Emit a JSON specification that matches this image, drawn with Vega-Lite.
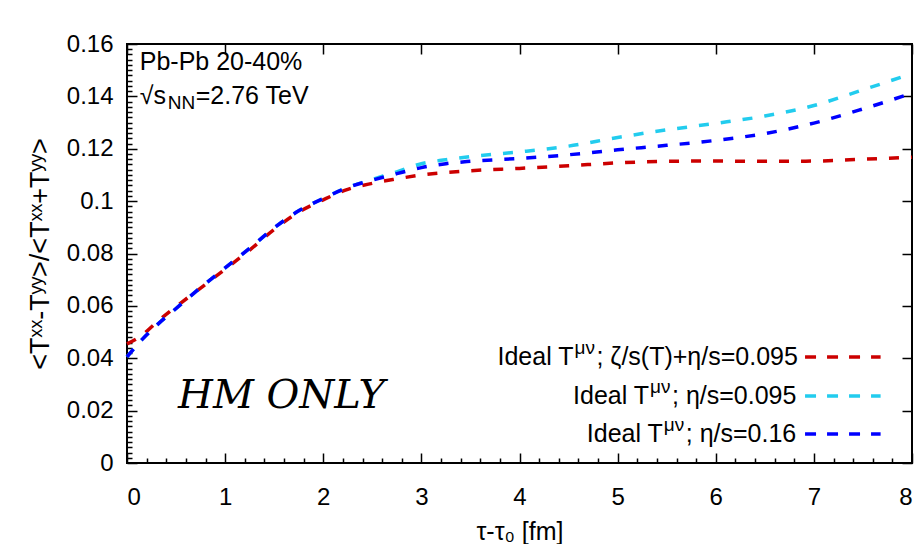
{
  "$schema": "https://vega.github.io/schema/vega-lite/v6.json",
  "width": 785,
  "height": 419,
  "autosize": {"type": "none"},
  "padding": {"left": 127, "top": 44, "right": 12, "bottom": 81},
  "background": "white",
  "config": {
    "view": {"stroke": "#000", "strokeWidth": 2},
    "axis": {"domain": false, "grid": false, "labelFontSize": 24, "tickColor": "#000", "tickWidth": 1.5}
  },
  "data": {"values": [
      {"t": 0, "v": 0.0455, "s": "ζ/s(T)+η/s=0.095"},
      {"t": 0.15, "v": 0.0487, "s": "ζ/s(T)+η/s=0.095"},
      {"t": 0.3, "v": 0.0537, "s": "ζ/s(T)+η/s=0.095"},
      {"t": 0.5, "v": 0.0597, "s": "ζ/s(T)+η/s=0.095"},
      {"t": 0.75, "v": 0.0668, "s": "ζ/s(T)+η/s=0.095"},
      {"t": 1.0, "v": 0.0740, "s": "ζ/s(T)+η/s=0.095"},
      {"t": 1.25, "v": 0.0813, "s": "ζ/s(T)+η/s=0.095"},
      {"t": 1.5, "v": 0.0892, "s": "ζ/s(T)+η/s=0.095"},
      {"t": 1.75, "v": 0.0958, "s": "ζ/s(T)+η/s=0.095"},
      {"t": 2.0, "v": 0.1005, "s": "ζ/s(T)+η/s=0.095"},
      {"t": 2.25, "v": 0.1045, "s": "ζ/s(T)+η/s=0.095"},
      {"t": 2.5, "v": 0.1068, "s": "ζ/s(T)+η/s=0.095"},
      {"t": 2.75, "v": 0.1085, "s": "ζ/s(T)+η/s=0.095"},
      {"t": 3.0, "v": 0.1100, "s": "ζ/s(T)+η/s=0.095"},
      {"t": 3.5, "v": 0.1116, "s": "ζ/s(T)+η/s=0.095"},
      {"t": 4.0, "v": 0.1125, "s": "ζ/s(T)+η/s=0.095"},
      {"t": 4.5, "v": 0.1135, "s": "ζ/s(T)+η/s=0.095"},
      {"t": 5.0, "v": 0.1146, "s": "ζ/s(T)+η/s=0.095"},
      {"t": 5.5, "v": 0.1152, "s": "ζ/s(T)+η/s=0.095"},
      {"t": 6.0, "v": 0.1153, "s": "ζ/s(T)+η/s=0.095"},
      {"t": 6.5, "v": 0.1152, "s": "ζ/s(T)+η/s=0.095"},
      {"t": 7.0, "v": 0.1153, "s": "ζ/s(T)+η/s=0.095"},
      {"t": 7.5, "v": 0.1160, "s": "ζ/s(T)+η/s=0.095"},
      {"t": 8.0, "v": 0.1168, "s": "ζ/s(T)+η/s=0.095"},
      {"t": 0, "v": 0.0405, "s": "η/s=0.095"},
      {"t": 0.15, "v": 0.0470, "s": "η/s=0.095"},
      {"t": 0.3, "v": 0.0525, "s": "η/s=0.095"},
      {"t": 0.5, "v": 0.0590, "s": "η/s=0.095"},
      {"t": 0.75, "v": 0.0670, "s": "η/s=0.095"},
      {"t": 1.0, "v": 0.0745, "s": "η/s=0.095"},
      {"t": 1.25, "v": 0.0820, "s": "η/s=0.095"},
      {"t": 1.5, "v": 0.0898, "s": "η/s=0.095"},
      {"t": 1.75, "v": 0.0963, "s": "η/s=0.095"},
      {"t": 2.0, "v": 0.1010, "s": "η/s=0.095"},
      {"t": 2.25, "v": 0.1053, "s": "η/s=0.095"},
      {"t": 2.5, "v": 0.1083, "s": "η/s=0.095"},
      {"t": 2.75, "v": 0.1112, "s": "η/s=0.095"},
      {"t": 3.0, "v": 0.1143, "s": "η/s=0.095"},
      {"t": 3.25, "v": 0.1158, "s": "η/s=0.095"},
      {"t": 3.5, "v": 0.1170, "s": "η/s=0.095"},
      {"t": 4.0, "v": 0.1188, "s": "η/s=0.095"},
      {"t": 4.5, "v": 0.1210, "s": "η/s=0.095"},
      {"t": 5.0, "v": 0.1243, "s": "η/s=0.095"},
      {"t": 5.5, "v": 0.1272, "s": "η/s=0.095"},
      {"t": 6.0, "v": 0.1297, "s": "η/s=0.095"},
      {"t": 6.5, "v": 0.1325, "s": "η/s=0.095"},
      {"t": 7.0, "v": 0.1365, "s": "η/s=0.095"},
      {"t": 7.5, "v": 0.1425, "s": "η/s=0.095"},
      {"t": 8.0, "v": 0.1487, "s": "η/s=0.095"},
      {"t": 0, "v": 0.0405, "s": "η/s=0.16"},
      {"t": 0.15, "v": 0.0470, "s": "η/s=0.16"},
      {"t": 0.3, "v": 0.0525, "s": "η/s=0.16"},
      {"t": 0.5, "v": 0.0590, "s": "η/s=0.16"},
      {"t": 0.75, "v": 0.0670, "s": "η/s=0.16"},
      {"t": 1.0, "v": 0.0745, "s": "η/s=0.16"},
      {"t": 1.25, "v": 0.0820, "s": "η/s=0.16"},
      {"t": 1.5, "v": 0.0898, "s": "η/s=0.16"},
      {"t": 1.75, "v": 0.0963, "s": "η/s=0.16"},
      {"t": 2.0, "v": 0.1010, "s": "η/s=0.16"},
      {"t": 2.25, "v": 0.1052, "s": "η/s=0.16"},
      {"t": 2.5, "v": 0.1080, "s": "η/s=0.16"},
      {"t": 2.75, "v": 0.1105, "s": "η/s=0.16"},
      {"t": 3.0, "v": 0.1128, "s": "η/s=0.16"},
      {"t": 3.25, "v": 0.1143, "s": "η/s=0.16"},
      {"t": 3.5, "v": 0.1152, "s": "η/s=0.16"},
      {"t": 4.0, "v": 0.1163, "s": "η/s=0.16"},
      {"t": 4.5, "v": 0.1177, "s": "η/s=0.16"},
      {"t": 5.0, "v": 0.1196, "s": "η/s=0.16"},
      {"t": 5.5, "v": 0.1213, "s": "η/s=0.16"},
      {"t": 6.0, "v": 0.1232, "s": "η/s=0.16"},
      {"t": 6.5, "v": 0.1258, "s": "η/s=0.16"},
      {"t": 7.0, "v": 0.1298, "s": "η/s=0.16"},
      {"t": 7.5, "v": 0.1352, "s": "η/s=0.16"},
      {"t": 8.0, "v": 0.1412, "s": "η/s=0.16"}
  ]},
  "datasets": {
    "legend": [
      {"s": "ζ/s(T)+η/s=0.095", "y": 0.0405, "ax": 4.55, "main": "Ideal T", "sup": "μν", "suffix": "; ζ/s(T)+η/s=0.095"},
      {"s": "η/s=0.095", "y": 0.0256, "ax": 5.32, "main": "Ideal T", "sup": "μν", "suffix": "; η/s=0.095"},
      {"s": "η/s=0.16", "y": 0.0111, "ax": 5.46, "main": "Ideal T", "sup": "μν", "suffix": "; η/s=0.16"}
    ],
    "one": [{}]
  },
  "resolve": {"axis": {"x": "independent", "y": "independent"}},
  "layer": [
    {
      "transform": [{"filter": "datum.s === 'ζ/s(T)+η/s=0.095'"}],
      "mark": {"type": "line", "strokeWidth": 3.5, "strokeDash": [10, 12], "interpolate": "monotone"},
      "encoding": {
        "x": {"field": "t", "type": "quantitative", "scale": {"domain": [0, 8], "nice": false},
          "axis": {"orient": "bottom", "values": [0, 1, 2, 3, 4, 5, 6, 7, 8], "ticks": true, "tickSize": -10, "labelPadding": 32, "format": "d", "labelFont": "Liberation Sans", "labelColor": "#000", "title": "τ-τ₀ [fm]", "titleFont": "Liberation Sans", "titleColor": "#000", "titleFontWeight": "normal", "titlePadding": 10, "titleFontSize": 25}},
        "y": {"field": "v", "type": "quantitative", "scale": {"domain": [0, 0.16], "nice": false},
          "axis": {"orient": "left", "values": [0, 0.02, 0.04, 0.06, 0.08, 0.1, 0.12, 0.14, 0.16], "ticks": true, "tickSize": -10, "labelPadding": 24, "format": "~g", "labelFont": "Liberation Sans", "labelColor": "#000", "title": "<Tˣˣ-Tʸʸ>/<Tˣˣ+Tʸʸ>", "titleFont": "Liberation Sans", "titleColor": "#000", "titleFontWeight": "normal", "titlePadding": 12, "titleFontSize": 27}},
        "color": {"field": "s", "type": "nominal", "scale": {"domain": ["ζ/s(T)+η/s=0.095", "η/s=0.095", "η/s=0.16"], "range": ["#cc0000", "#22ccee", "#0000ff"]}, "legend": null}
      }
    },
    {
      "mark": {"type": "point", "opacity": 0},
      "encoding": {
        "x": {"field": "t", "type": "quantitative", "axis": {"orient": "top", "values": [0, 1, 2, 3, 4, 5, 6, 7, 8], "tickSize": -10, "labels": false, "title": null}},
        "y": {"field": "v", "type": "quantitative", "axis": {"orient": "right", "values": [0, 0.02, 0.04, 0.06, 0.08, 0.1, 0.12, 0.14, 0.16], "tickSize": -10, "labels": false, "title": null}}
      }
    },
    {
      "mark": {"type": "point", "opacity": 0},
      "encoding": {
        "x": {"field": "t", "type": "quantitative", "axis": {"orient": "bottom", "values": [0.2,0.4,0.6,0.8,1.2,1.4,1.6,1.8,2.2,2.4,2.6,2.8,3.2,3.4,3.6,3.8,4.2,4.4,4.6,4.8,5.2,5.4,5.6,5.8,6.2,6.4,6.6,6.8,7.2,7.4,7.6,7.8], "tickSize": -5, "labels": false, "title": null}},
        "y": {"field": "v", "type": "quantitative", "axis": {"orient": "left", "values": [0.002,0.004,0.006,0.008,0.01,0.012,0.014,0.016,0.018,0.022,0.024,0.026,0.028,0.03,0.032,0.034,0.036,0.038,0.042,0.044,0.046,0.048,0.05,0.052,0.054,0.056,0.058,0.062,0.064,0.066,0.068,0.07,0.072,0.074,0.076,0.078,0.082,0.084,0.086,0.088,0.09,0.092,0.094,0.096,0.098,0.102,0.104,0.106,0.108,0.11,0.112,0.114,0.116,0.118,0.122,0.124,0.126,0.128,0.13,0.132,0.134,0.136,0.138,0.142,0.144,0.146,0.148,0.15,0.152,0.154,0.156,0.158], "tickSize": -5, "labels": false, "title": null}}
      }
    },
    {
      "transform": [{"filter": "datum.s === 'η/s=0.095'"}],
      "mark": {"type": "line", "strokeWidth": 3.5, "strokeDash": [10, 12], "interpolate": "monotone"},
      "encoding": {
        "x": {"field": "t", "type": "quantitative", "axis": null},
        "y": {"field": "v", "type": "quantitative", "axis": null},
        "color": {"field": "s", "type": "nominal", "legend": null}
      }
    },
    {
      "transform": [{"filter": "datum.s === 'η/s=0.16'"}],
      "mark": {"type": "line", "strokeWidth": 3.5, "strokeDash": [10, 12], "interpolate": "monotone"},
      "encoding": {
        "x": {"field": "t", "type": "quantitative", "axis": null},
        "y": {"field": "v", "type": "quantitative", "axis": null},
        "color": {"field": "s", "type": "nominal", "legend": null}
      }
    },
    {
      "data": {"name": "legend"},
      "mark": {"type": "rule", "strokeWidth": 3.5, "strokeDash": [11, 11]},
      "encoding": {
        "x": {"datum": 6.91, "type": "quantitative", "axis": null},
        "x2": {"datum": 7.68},
        "y": {"field": "y", "type": "quantitative", "axis": null},
        "color": {"field": "s", "type": "nominal", "legend": null}
      }
    },
    {
      "data": {"name": "legend"},
      "mark": {"type": "text", "align": "right", "baseline": "middle", "fontSize": 25, "font": "Liberation Sans", "color": "#000"},
      "encoding": {
        "x": {"field": "ax", "type": "quantitative", "axis": null},
        "y": {"field": "y", "type": "quantitative", "axis": null},
        "text": {"field": "main"}
      }
    },
    {
      "data": {"name": "legend"},
      "mark": {"type": "text", "align": "left", "baseline": "middle", "fontSize": 19, "dx": 1, "dy": -9, "font": "Liberation Sans", "color": "#000"},
      "encoding": {
        "x": {"field": "ax", "type": "quantitative", "axis": null},
        "y": {"field": "y", "type": "quantitative", "axis": null},
        "text": {"field": "sup"}
      }
    },
    {
      "data": {"name": "legend"},
      "mark": {"type": "text", "align": "left", "baseline": "middle", "fontSize": 25, "dx": 23, "font": "Liberation Sans", "color": "#000"},
      "encoding": {
        "x": {"field": "ax", "type": "quantitative", "axis": null},
        "y": {"field": "y", "type": "quantitative", "axis": null},
        "text": {"field": "suffix"}
      }
    },
    {
      "data": {"name": "one"},
      "mark": {"type": "text", "align": "left", "baseline": "middle", "fontSize": 25, "font": "Liberation Sans", "color": "#000"},
      "encoding": {
        "x": {"datum": 0.13, "type": "quantitative", "axis": null},
        "y": {"datum": 0.1531, "type": "quantitative", "axis": null},
        "text": {"value": "Pb-Pb 20-40%"}
      }
    },
    {
      "data": {"name": "one"},
      "mark": {"type": "text", "align": "left", "baseline": "middle", "fontSize": 25, "font": "Liberation Sans", "color": "#000"},
      "encoding": {
        "x": {"datum": 0.13, "type": "quantitative", "axis": null},
        "y": {"datum": 0.1401, "type": "quantitative", "axis": null},
        "text": {"value": "√s"}
      }
    },
    {
      "data": {"name": "one"},
      "mark": {"type": "text", "align": "left", "baseline": "middle", "fontSize": 19, "dx": 28, "dy": 7, "font": "Liberation Sans", "color": "#000"},
      "encoding": {
        "x": {"datum": 0.13, "type": "quantitative", "axis": null},
        "y": {"datum": 0.1401, "type": "quantitative", "axis": null},
        "text": {"value": "NN"}
      }
    },
    {
      "data": {"name": "one"},
      "mark": {"type": "text", "align": "left", "baseline": "middle", "fontSize": 25, "dx": 56, "font": "Liberation Sans", "color": "#000"},
      "encoding": {
        "x": {"datum": 0.13, "type": "quantitative", "axis": null},
        "y": {"datum": 0.1401, "type": "quantitative", "axis": null},
        "text": {"value": "=2.76 TeV"}
      }
    },
    {
      "data": {"name": "one"},
      "mark": {"type": "text", "align": "left", "baseline": "middle", "fontSize": 40, "font": "DejaVu Serif", "fontStyle": "italic", "color": "#000"},
      "encoding": {
        "x": {"datum": 0.52, "type": "quantitative", "axis": null},
        "y": {"datum": 0.0256, "type": "quantitative", "axis": null},
        "text": {"value": "HM ONLY"}
      }
    }
  ]
}
